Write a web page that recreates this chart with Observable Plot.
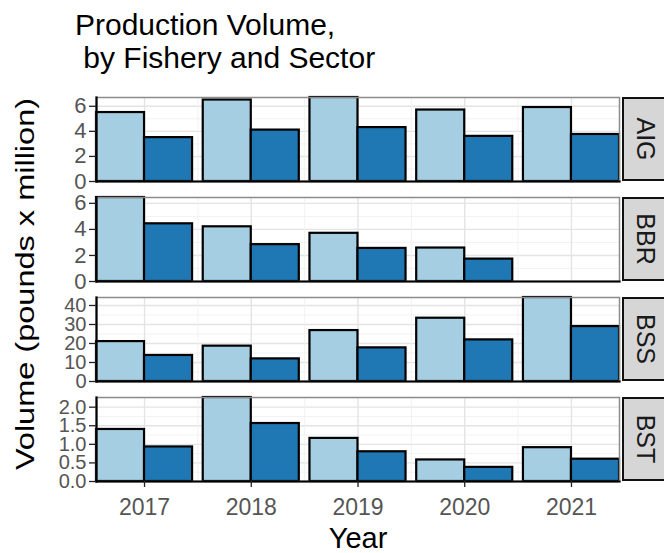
<!DOCTYPE html>
<html>
<head>
<meta charset="utf-8">
<script src="https://cdn.jsdelivr.net/npm/d3@7"></script>
<script src="https://cdn.jsdelivr.net/npm/@observablehq/plot@0.6"></script>
<style>
  html, body { margin: 0; padding: 0; background: #fff; }
  #root { position: relative; width: 664px; height: 553px; overflow: hidden; font-family: "Liberation Sans", Arial, sans-serif; }
  .abs { position: absolute; }
  .title { left: 75px; top: 8px; font-size: 30px; line-height: 33px; color: #000; white-space: pre; }
  .ytitle { left: 25px; top: 284px; font-size: 32.5px; color: #000; white-space: nowrap;
            transform: translate(-50%, -50%) rotate(-90deg) scaleY(0.82); }
  .xtitle { left: 358px; top: 524px; font-size: 29px; line-height: 29px; color: #000; transform: translateX(-50%); }
  .strip { box-sizing: border-box; background: #d6d6d6; border: 2.5px solid #111; }
  .strip span { position: absolute; left: 50%; top: 50%; font-size: 25px; color: #1a1a1a; white-space: nowrap;
                transform: translate(-50%, -50%) rotate(90deg); }
  .panel svg { display: block; }
</style>
</head>
<body>
<div id="root"></div>
<script>
// ---- data ----
const years = [2017, 2018, 2019, 2020, 2021];
const fisheries = ["AIG", "BBR", "BSS", "BST"];
const sectors = ["Catcher Processor", "Catcher Vessel"];
const sectorColors = ["#a6cee3", "#1f78b4"];

const aigCP = [5.5, 6.5, 6.7, 5.7, 5.9];
const aigCV = [3.5, 4.1, 4.3, 3.6, 3.75];
const bbrCP = [6.45, 4.2, 3.7, 2.57, null];
const bbrCV = [4.43, 2.83, 2.54, 1.72, null];
const bssCP = [21.0, 18.6, 26.8, 33.3, 44.2];
const bssCV = [13.7, 11.9, 17.7, 21.9, 28.9];
const bstCP = [1.40, 2.26, 1.16, 0.58, 0.91];
const bstCV = [0.93, 1.56, 0.80, 0.38, 0.60];

const yTicksAIG = [0, 2, 4, 6];
const yTicksBBR = [0, 2, 4, 6];
const yTicksBSS = [0, 10, 20, 30, 40];
const yTicksBST = [0, 0.5, 1.0, 1.5, 2.0];

const seriesByFishery = {
  AIG: [aigCP, aigCV], BBR: [bbrCP, bbrCV], BSS: [bssCP, bssCV], BST: [bstCP, bstCV]
};
const ticksByFishery = { AIG: yTicksAIG, BBR: yTicksBBR, BSS: yTicksBSS, BST: yTicksBST };
const formatByFishery = {
  AIG: d3.format("d"), BBR: d3.format("d"), BSS: d3.format("d"), BST: d3.format(".1f")
};

const rows = [];
fisheries.forEach(f => {
  seriesByFishery[f].forEach((vals, s) => {
    vals.forEach((v, i) => {
      if (v != null) rows.push({ fishery: f, year: years[i], sector: sectors[s], s, value: v });
    });
  });
});

// ---- layout ----
const root = document.getElementById("root");
const barW = 0.45;
const xDomain = [d3.min(years) - barW, d3.max(years) + barW];
const halfYears = years.slice(0, -1).map(y => y + 0.5);
const panelTop0 = 97, panelStep = 100, panelH = 84;
const mTop = 8;

function addDiv(cls, text, style) {
  const d = document.createElement("div");
  d.className = "abs " + cls;
  if (text != null) d.textContent = text;
  Object.assign(d.style, style || {});
  root.appendChild(d);
  return d;
}

fisheries.forEach((f, i) => {
  const last = i === fisheries.length - 1;
  const data = rows.filter(d => d.fishery === f);
  const ymax = d3.max(data, d => d.value);
  const ticks = ticksByFishery[f];
  const step = ticks[1] - ticks[0];
  const minor = ticks.map(t => t + step / 2).filter(t => t <= ymax);
  const mBottom = last ? 40 : 8;
  const dense = ticks.length > 4;

  const chart = Plot.plot({
    width: 664,
    height: mTop + panelH + mBottom,
    marginLeft: 96,
    marginRight: 45,
    marginTop: mTop,
    marginBottom: mBottom,
    style: { fontFamily: "'Liberation Sans', Arial, sans-serif", fontSize: "21px", background: "transparent", overflow: "visible" },
    x: { domain: xDomain, axis: null },
    y: { domain: [0, ymax], axis: null },
    marks: [
      Plot.ruleY(minor, { stroke: "#f1f1f1", strokeWidth: 0.9 }),
      Plot.ruleY(ticks, { stroke: "#e4e4e4", strokeWidth: 1.4 }),
      Plot.ruleX(halfYears, { stroke: "#f1f1f1", strokeWidth: 0.9 }),
      Plot.ruleX(years, { stroke: "#e4e4e4", strokeWidth: 1.4 }),
      Plot.rect(data, {
        x1: d => d.year - barW + d.s * barW,
        x2: d => d.year + d.s * barW,
        y1: 0,
        y2: "value",
        fill: d => sectorColors[d.s],
        stroke: "#000",
        strokeWidth: 2.2
      }),
      Plot.frame({ stroke: "#8c8c8c", strokeWidth: 1.5 }),
      Plot.frame({ anchor: "left", stroke: "#000", strokeWidth: 2.2 }),
      Plot.frame({ anchor: "bottom", stroke: "#000", strokeWidth: 2.2 }),
      Plot.axisY({
        ticks, tickFormat: formatByFishery[f], tickSize: 7, tickPadding: 3,
        label: null, stroke: "#222", fill: "#555", strokeWidth: 1.3, fontSize: dense ? 20 : 22
      }),
      last ? Plot.axisX({
        ticks: years, tickFormat: d => String(d), tickSize: 6, tickPadding: 11,
        label: null, stroke: "#222", fill: "#555", strokeWidth: 1.3, fontSize: 23
      }) : null
    ]
  });
  const wrap = addDiv("panel", null, { left: "0px", top: (panelTop0 + i * panelStep - mTop) + "px" });
  wrap.appendChild(chart);

  const strip = addDiv("strip", null, {
    left: "622px", top: (panelTop0 + i * panelStep) + "px", width: "46px", height: panelH + "px"
  });
  const sp = document.createElement("span");
  sp.textContent = f;
  strip.appendChild(sp);
});

addDiv("title", "Production Volume,\n by Fishery and Sector");
addDiv("ytitle", "Volume (pounds x million)");
addDiv("xtitle", "Year");
</script>
</body>
</html>
